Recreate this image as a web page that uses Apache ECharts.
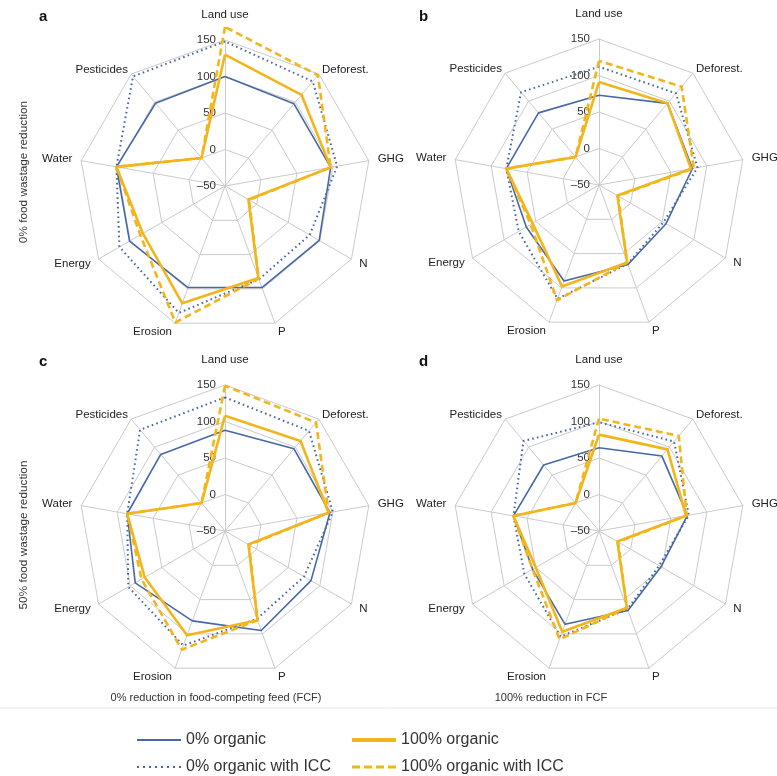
<!DOCTYPE html>
<html>
<head>
<meta charset="utf-8">
<script src="https://cdn.jsdelivr.net/npm/echarts@6/dist/echarts.min.js"></script>
<style>
html,body{margin:0;padding:0;background:#fff;}
#chart{width:777px;height:776px;}
</style>
</head>
<body>
<div id="chart"></div>
<script>
// Axes in clockwise order starting from top
const categories = ['Land use', 'Deforest.', 'GHG', 'N', 'P', 'Erosion', 'Energy', 'Water', 'Pesticides'];
const radialMin = -50;
const radialMax = 150;
const radialInterval = 50;
const seriesNames = ['0% organic', '0% organic with ICC', '100% organic', '100% organic with ICC'];
const panelLetters = ['a', 'b', 'c', 'd'];
const rowLabels = ['0% food wastage reduction', '50% food wastage reduction'];
const colLabels = ['0% reduction in food-competing feed (FCF)', '100% reduction in FCF'];

// Panel a: 0% food wastage reduction, 0% FCF reduction
const a_org0      = [100,  97,  97,  99,  98,  98, 101, 101,  98];
const a_org0ICC   = [148, 137, 106,  84,  86, 135, 117, 101, 146];
const a_org100    = [130, 113,  97, -13,  84, 121,  80, 101,   0];
const a_org100ICC = [168, 148,  97, -12,  85, 149,  84, 101,   0];

// Panel b: 0% food wastage reduction, 100% FCF reduction
const b_org0      = [ 73,  96,  80,  56,  66,  90,  65,  79,  79];
const b_org0ICC   = [112, 114,  87,  52,  65, 116,  77,  79, 116];
const b_org100    = [ 91,  96,  78, -21,  63,  98,  55,  79,   0];
const b_org100ICC = [120, 126,  82, -20,  63, 118,  58,  79,   0];

// Panel c: 50% food wastage reduction, 0% FCF reduction
const c_org0      = [ 88,  97,  96,  86,  95,  81,  92,  86,  87];
const c_org0ICC   = [133, 129, 100,  75,  78, 117, 103,  86, 131];
const c_org100    = [108, 111,  94, -13,  80, 102,  77,  86,   0];
const c_org100ICC = [149, 144,  94, -12,  80, 123,  82,  86,   0];

// Panel d: 50% food wastage reduction, 100% FCF reduction
const d_org0      = [ 64,  84,  73,  48,  66,  86,  55,  69,  68];
const d_org0ICC   = [ 99, 110,  75,  45,  64, 104,  68,  69, 111];
const d_org100    = [ 82,  96,  71, -21,  62,  97,  50,  69,   0];
const d_org100ICC = [104, 120,  72, -20,  62, 108,  55,  69,   0];

const panels = [
  [a_org0, a_org0ICC, a_org100, a_org100ICC],
  [b_org0, b_org0ICC, b_org100, b_org100ICC],
  [c_org0, c_org0ICC, c_org100, c_org100ICC],
  [d_org0, d_org0ICC, d_org100, d_org100ICC]
];

// ECharts radar places indicators counter-clockwise; reorder to show them clockwise
const ccwOrder = [0, 8, 7, 6, 5, 4, 3, 2, 1];
const reorder = arr => ccwOrder.map(k => arr[k]);

const BLUE = '#4767a6';
const GOLD = '#f2b51c';
const lineStyles = [
  { color: BLUE, width: 1.6, type: 'solid' },
  { color: BLUE, width: 2, type: [1.6, 3.2], cap: 'butt' },
  { color: GOLD, width: 2.6, type: 'solid' },
  { color: GOLD, width: 2.6, type: [7, 4] }
];
const zOrder = [2, 3, 4, 5];

const FONT = 'Liberation Sans';
const centers = [[225, 186], [599, 185], [225, 531], [599, 531]];
const nameGaps = { 'Land use': 19, 'Deforest.': 5, 'Pesticides': 5 };

const radars = centers.map(c => ({
  center: c,
  radius: 146,
  startAngle: 90,
  splitNumber: (radialMax - radialMin) / radialInterval,
  shape: 'polygon',
  nameGap: 9,
  axisName: { color: '#222', fontSize: 11.5, fontFamily: FONT },
  axisLine: { lineStyle: { color: '#cbcbcb', width: 1 } },
  splitLine: { lineStyle: { color: '#cbcbcb', width: 1 } },
  splitArea: { show: false },
  axisTick: { show: false },
  axisLabel: { show: false },
  indicator: ccwOrder.map((k, i) => {
    const ind = { name: categories[k], min: radialMin, max: radialMax };
    if (nameGaps[categories[k]] !== undefined) ind.nameGap = nameGaps[categories[k]];
    if (i === 0) {
      ind.axisLabel = {
        show: true, color: '#333', fontSize: 11.5, fontFamily: FONT, margin: 9,
        formatter: v => String(v).replace('-', '\u2013')
      };
    }
    return ind;
  })
}));

const series = [];
panels.forEach((vals, p) => {
  vals.forEach((arr, s) => {
    series.push({
      type: 'radar',
      radarIndex: p,
      name: seriesNames[s],
      symbol: 'none',
      z: zOrder[s],
      silent: true,
      lineStyle: lineStyles[s],
      itemStyle: { color: lineStyles[s].color },
      data: [{ value: reorder(arr), name: seriesNames[s] }]
    });
  });
});

function dotsPath(n, step, w, y0, h, totalW, totalH) {
  let d = 'path://M0,0 M' + totalW + ',' + totalH + ' ';
  for (let i = 0; i < n; i++) {
    const x = i * step;
    d += 'M' + x + ',' + y0 + 'h' + w + 'v' + h + 'h-' + w + 'z ';
  }
  return d;
}
const iconBlueSolid = 'path://M0,0 M44,6 M0,2H44V4H0Z';
const iconBlueDotted = dotsPath(8, 6, 2, 2, 2, 44, 6);
const iconGoldSolid = 'path://M0,0 M44,6 M0,1H44V5H0Z';
const iconGoldDashed = dotsPath(4, 12, 8, 1.5, 3, 44, 6);

const legendText = { fontSize: 16, color: '#333', fontFamily: FONT };

const option = {
  animation: false,
  backgroundColor: '#fff',
  title: panelLetters.map((t, i) => ({
    text: t,
    left: [34, 414, 34, 414][i],
    top: [4, 4, 349, 349][i],
    textStyle: { fontSize: 15, fontWeight: 'bold', color: '#111', fontFamily: FONT }
  })),
  legend: [
    {
      orient: 'vertical', left: 132, top: 727, height: 60, itemGap: 11,
      itemWidth: 44, itemHeight: 6, textStyle: legendText, selectedMode: false,
      data: [
        { name: seriesNames[0], icon: iconBlueSolid, itemStyle: { color: BLUE } },
        { name: seriesNames[1], icon: iconBlueDotted, itemStyle: { color: BLUE } }
      ]
    },
    {
      orient: 'vertical', left: 347, top: 727, height: 60, itemGap: 11,
      itemWidth: 44, itemHeight: 6, textStyle: legendText, selectedMode: false,
      data: [
        { name: seriesNames[2], icon: iconGoldSolid, itemStyle: { color: GOLD } },
        { name: seriesNames[3], icon: iconGoldDashed, itemStyle: { color: GOLD } }
      ]
    }
  ],
  radar: radars,
  series: series,
  graphic: [
    { type: 'text', x: 24, y: 172, rotation: Math.PI / 2,
      style: { text: rowLabels[0], fontSize: 11.8, fill: '#333', fontFamily: FONT, align: 'center', verticalAlign: 'middle' } },
    { type: 'text', x: 24, y: 535, rotation: Math.PI / 2,
      style: { text: rowLabels[1], fontSize: 11.8, fill: '#333', fontFamily: FONT, align: 'center', verticalAlign: 'middle' } },
    { type: 'text', x: 216, y: 698,
      style: { text: colLabels[0], fontSize: 11, fill: '#333', fontFamily: FONT, align: 'center', verticalAlign: 'middle' } },
    { type: 'text', x: 551, y: 698,
      style: { text: colLabels[1], fontSize: 11, fill: '#333', fontFamily: FONT, align: 'center', verticalAlign: 'middle' } },
    { type: 'line', shape: { x1: 0, y1: 708, x2: 777, y2: 708 },
      style: { stroke: '#e8e8e8', lineWidth: 1 } }
  ]
};

const chart = echarts.init(document.getElementById('chart'), null, { renderer: 'canvas' });
chart.setOption(option);
</script>
</body>
</html>
